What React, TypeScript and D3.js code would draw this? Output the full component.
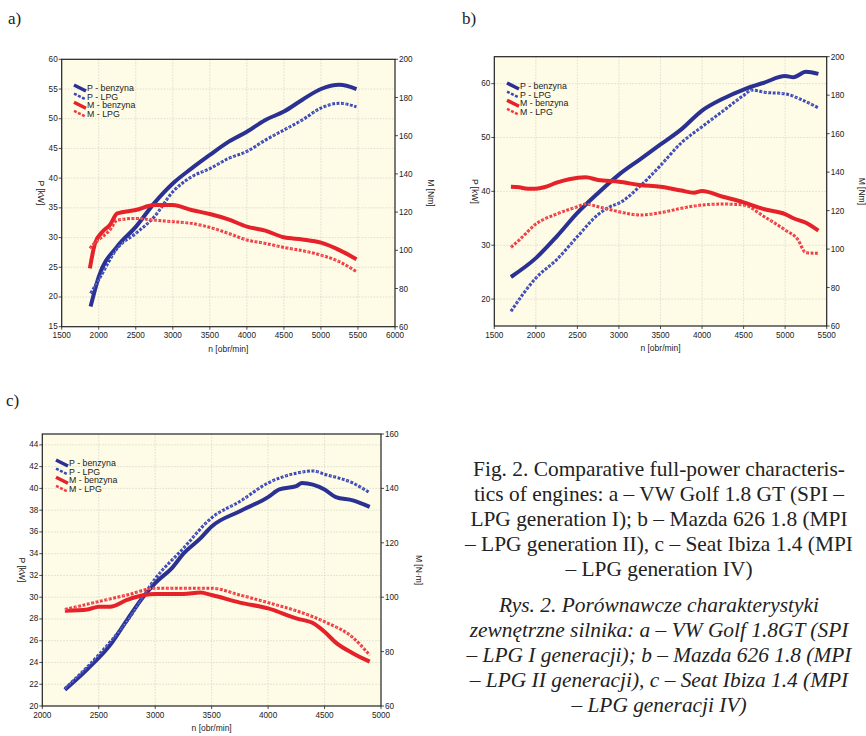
import * as d3 from 'd3';

// ---- panel a: VW Golf 1.8 GT ----
const rpmA = [1890, 2000, 2250, 2500, 2750, 3000, 3250, 3500, 3750, 4000, 4250, 4500, 4750, 5000, 5250, 5480];
const aPBenz = [18.4, 23.4, 28.5, 31.8, 35.8, 39.1, 41.6, 43.9, 46.1, 47.8, 49.8, 51.2, 53.2, 55.0, 55.7, 55.0];
const aPLpg = [20.6, 22.9, 28.2, 30.7, 33.5, 37.7, 40.2, 41.6, 43.3, 44.5, 46.4, 48.1, 49.8, 51.8, 52.6, 52.0];
const rpmAM = [1880, 1950, 2050, 2150, 2250, 2500, 2750, 3000, 3250, 3500, 3750, 4000, 4250, 4500, 4750, 5000, 5250, 5480];
const aMBenz = [90.5, 103.6, 109.7, 113.2, 119.3, 121.1, 123.7, 123.7, 121.1, 119.0, 116.2, 112.4, 110.3, 106.8, 105.7, 104.0, 100.1, 95.3];
const aMLpg = [101.0, 104.0, 107.1, 110.6, 115.8, 116.7, 115.8, 115.0, 114.1, 112.0, 108.9, 105.4, 103.6, 101.5, 99.8, 97.5, 94.0, 88.8];

// ---- panel b: Mazda 626 1.8 ----
const rpmB = [1700, 2000, 2250, 2500, 2750, 3000, 3250, 3500, 3750, 4000, 4250, 4500, 4750, 5000, 5100, 5250, 5400];
const bPBenz = [24.1, 27.6, 31.6, 36.0, 39.7, 43.1, 45.9, 48.7, 51.5, 55.0, 57.2, 58.9, 60.2, 61.4, 61.2, 62.2, 61.8];
const rpmBPL = [1700, 2000, 2250, 2500, 2750, 2900, 3000, 3250, 3500, 3750, 4000, 4250, 4500, 4600, 4750, 5000, 5200, 5400];
const bPLpg = [17.7, 23.9, 27.3, 31.6, 35.7, 37.2, 37.8, 40.9, 44.8, 49.0, 52.0, 54.9, 57.8, 58.8, 58.4, 58.1, 57.0, 55.5];
const rpmBMB = [1700, 1800, 1900, 2000, 2100, 2250, 2400, 2600, 2750, 3000, 3250, 3500, 3750, 3900, 4000, 4250, 4500, 4750, 5000, 5100, 5250, 5400];
const bMBenz = [132.4, 132.1, 131.4, 131.4, 132.1, 134.5, 136.3, 137.3, 135.9, 135.0, 133.3, 132.4, 130.4, 129.3, 130.2, 127.2, 124.3, 120.7, 118.2, 116.0, 113.7, 109.6];
const rpmBML = [1700, 1800, 2000, 2250, 2500, 2600, 2750, 3000, 3250, 3500, 3750, 4000, 4250, 4500, 4750, 5000, 5150, 5250, 5400];
const bMLpg = [100.9, 104.7, 113.0, 118.2, 122.0, 123.4, 122.0, 119.4, 117.7, 118.9, 121.2, 122.9, 123.4, 122.9, 116.8, 109.9, 105.1, 98.1, 97.8];

// ---- panel c: Seat Ibiza 1.4 ----
const rpmCPB = [2200, 2400, 2600, 2750, 2900, 3000, 3150, 3250, 3400, 3500, 3750, 4000, 4100, 4250, 4300, 4500, 4600, 4750, 4900];
const cPBenz = [21.5, 23.4, 25.6, 27.9, 30.1, 31.3, 32.7, 34.0, 35.4, 36.5, 37.9, 39.2, 39.9, 40.2, 40.5, 39.9, 39.2, 38.9, 38.3];
const rpmCPL = [2200, 2500, 2750, 3000, 3250, 3500, 3750, 4000, 4250, 4400, 4500, 4750, 4900];
const cPLpg = [21.6, 24.7, 27.8, 31.7, 34.5, 37.3, 38.8, 40.5, 41.4, 41.6, 41.3, 40.5, 39.6];
const rpmCMB = [2200, 2400, 2500, 2600, 2750, 2900, 3000, 3250, 3400, 3500, 3750, 4000, 4250, 4400, 4500, 4600, 4750, 4900];
const cMBenz = [95.0, 95.5, 96.5, 96.5, 99.0, 100.8, 101.2, 101.2, 101.7, 100.8, 98.0, 95.9, 92.2, 90.4, 87.3, 83.3, 79.4, 76.3];
const rpmCML = [2200, 2500, 2750, 3000, 3250, 3500, 3750, 4000, 4250, 4500, 4750, 4900];
const cMLpg = [95.5, 98.4, 100.8, 103.3, 103.3, 103.3, 100.8, 98.0, 95.0, 91.0, 85.2, 78.7];

const legendLabels = ['P - benzyna', 'P - LPG', 'M - benzyna', 'M - LPG'];

const captionEn = [
  'Fig. 2. Comparative full-power characteris-',
  'tics of engines: a – VW Golf 1.8 GT (SPI –',
  'LPG generation I); b – Mazda 626 1.8 (MPI',
  '– LPG generation II), c – Seat Ibiza 1.4 (MPI',
  '– LPG generation IV)',
];
const captionPl = [
  'Rys. 2. Porównawcze charakterystyki',
  'zewnętrzne silnika: a – VW Golf 1.8GT (SPI',
  '– LPG I generacji); b – Mazda 626 1.8 (MPI',
  '– LPG II generacji), c – Seat Ibiza 1.4 (MPI',
  '– LPG generacji IV)',
];

const BLUE = '#2b3192';
const BLUE_L = '#3a47b5';
const RED = '#e5222a';
const RED_L = '#ef3a40';
const SANS = 'Liberation Sans, Arial, sans-serif';
const SERIF = 'Liberation Serif, Times New Roman, serif';

type Series = { x: number[]; y: number[]; axis: 'P' | 'M'; kind: number };

type PanelProps = {
  box: { x0: number; x1: number; y0: number; y1: number };
  xDomain: [number, number];
  xStep: number;
  pDomain: [number, number];
  pTicks: number[];
  mDomain: [number, number];
  mTicks: number[];
  series: Series[];
  mLabel: string;
  legend: [number, number];
  leftLabelX: number;
  rightLabelX: number;
};

const Panel = ({ box, xDomain, xStep, pDomain, pTicks, mDomain, mTicks, series, mLabel, legend, leftLabelX, rightLabelX }: PanelProps) => {
  const x = d3.scaleLinear().domain(xDomain).range([box.x0, box.x1]);
  const yP = d3.scaleLinear().domain(pDomain).range([box.y1, box.y0]);
  const yM = d3.scaleLinear().domain(mDomain).range([box.y1, box.y0]);
  const xTicks = d3.range(xDomain[0], xDomain[1] + 1, xStep);
  const midY = (box.y0 + box.y1) / 2;

  // 0: P benzyna, 1: P LPG, 2: M benzyna, 3: M LPG
  const styles = [
    { stroke: BLUE, width: 4, dash: undefined, over: false },
    { stroke: BLUE_L, width: 3, dash: '3 1.5', over: true },
    { stroke: RED, width: 4, dash: undefined, over: false },
    { stroke: RED_L, width: 3, dash: '3 1.5', over: true },
  ];

  return (
    <g>
      <rect x={box.x0} y={box.y0} width={box.x1 - box.x0} height={box.y1 - box.y0} fill="#fefce6" />
      {xTicks.slice(1, -1).map(t => (
        <line key={'gx' + t} x1={x(t)} x2={x(t)} y1={box.y0} y2={box.y1} stroke="#c9c9c0" strokeWidth={0.6} strokeDasharray="1.5 1.5" />
      ))}
      {pTicks.filter(t => t > pDomain[0] && t < pDomain[1]).map(t => (
        <line key={'gy' + t} x1={box.x0} x2={box.x1} y1={yP(t)} y2={yP(t)} stroke="#c9c9c0" strokeWidth={0.6} strokeDasharray="1.5 1.5" />
      ))}
      {series.map((s, i) => {
        const st = styles[s.kind];
        const ys = s.axis === 'P' ? yP : yM;
        const pts = s.x.map((v, j) => [v, s.y[j]] as [number, number]);
        const line = d3.line<[number, number]>().x(d => x(d[0])).y(d => ys(d[1])).curve(d3.curveMonotoneX);
        const d = line(pts) || '';
        return (
          <g key={i}>
            <path d={d} fill="none" stroke={st.stroke} strokeWidth={st.width} strokeDasharray={st.dash} />
            {st.over && <path d={d} fill="none" stroke="#ffffff" strokeWidth={0.7} strokeDasharray="1 2.5" opacity={0.8} />}
          </g>
        );
      })}
      <rect x={box.x0} y={box.y0} width={box.x1 - box.x0} height={box.y1 - box.y0} fill="none" stroke="#222" strokeWidth={1.2} />
      {xTicks.map(t => (
        <g key={'tx' + t}>
          <line x1={x(t)} x2={x(t)} y1={box.y1} y2={box.y1 + 3} stroke="#222" strokeWidth={0.8} />
          <text x={x(t)} y={box.y1 + 11.5} textAnchor="middle" fontSize={8.2} fontFamily={SANS} fill="#222">{t}</text>
        </g>
      ))}
      {pTicks.map(t => (
        <g key={'tp' + t}>
          <line x1={box.x0 - 3} x2={box.x0} y1={yP(t)} y2={yP(t)} stroke="#222" strokeWidth={0.8} />
          <text x={box.x0 - 4} y={yP(t) + 2.5} textAnchor="end" fontSize={8.2} fontFamily={SANS} fill="#222">{t}</text>
        </g>
      ))}
      {mTicks.map(t => (
        <g key={'tm' + t}>
          <line x1={box.x1} x2={box.x1 + 3} y1={yM(t)} y2={yM(t)} stroke="#222" strokeWidth={0.8} />
          <text x={box.x1 + 4} y={yM(t) + 3} textAnchor="start" fontSize={8.2} fontFamily={SANS} fill="#222">{t}</text>
        </g>
      ))}
      <text x={(box.x0 + box.x1) / 2} y={box.y1 + 25} textAnchor="middle" fontSize={8.5} fontFamily={SANS} fill="#222">n [obr/min]</text>
      <text transform={`translate(${leftLabelX},${midY}) rotate(90)`} textAnchor="middle" fontSize={8.5} fontFamily={SANS} fill="#222">P [kW]</text>
      <text transform={`translate(${rightLabelX},${midY}) rotate(90)`} textAnchor="middle" fontSize={8.5} fontFamily={SANS} fill="#222">{mLabel}</text>
      {legendLabels.map((lab, i) => {
        const st = styles[i];
        const ly = legend[1] + i * 8.6;
        return (
          <g key={lab}>
            <line x1={legend[0]} y1={ly - 3} x2={legend[0] + 12} y2={ly + 3} stroke={st.stroke} strokeWidth={st.width - 0.5} strokeDasharray={st.dash} />
            <text x={legend[0] + 13} y={ly + 3} fontSize={8.8} fontFamily={SANS} fill="#222">{lab}</text>
          </g>
        );
      })}
    </g>
  );
};

const App = () => {
  const seriesA: Series[] = [
    { x: rpmA, y: aPBenz, axis: 'P', kind: 0 },
    { x: rpmA, y: aPLpg, axis: 'P', kind: 1 },
    { x: rpmAM, y: aMBenz, axis: 'M', kind: 2 },
    { x: rpmAM, y: aMLpg, axis: 'M', kind: 3 },
  ];
  const seriesB: Series[] = [
    { x: rpmBPL, y: bPLpg, axis: 'P', kind: 1 },
    { x: rpmB, y: bPBenz, axis: 'P', kind: 0 },
    { x: rpmBML, y: bMLpg, axis: 'M', kind: 3 },
    { x: rpmBMB, y: bMBenz, axis: 'M', kind: 2 },
  ];
  const seriesC: Series[] = [
    { x: rpmCPB, y: cPBenz, axis: 'P', kind: 0 },
    { x: rpmCPL, y: cPLpg, axis: 'P', kind: 1 },
    { x: rpmCMB, y: cMBenz, axis: 'M', kind: 2 },
    { x: rpmCML, y: cMLpg, axis: 'M', kind: 3 },
  ];

  return (
    <div style={{ position: 'absolute', left: 0, top: 0 }}>
      <svg width={866} height={736} style={{ display: 'block', background: '#fff' }}>
        <text x={8} y={24} fontSize={17} fontFamily={SERIF} fill="#222">a)</text>
        <text x={462} y={24} fontSize={17} fontFamily={SERIF} fill="#222">b)</text>
        <text x={6} y={406} fontSize={17} fontFamily={SERIF} fill="#222">c)</text>

        <Panel
          box={{ x0: 61.7, x1: 395, y0: 59.3, y1: 326.7 }}
          xDomain={[1500, 6000]} xStep={500}
          pDomain={[15, 60]} pTicks={d3.range(15, 61, 5)}
          mDomain={[60, 200]} mTicks={d3.range(60, 201, 20)}
          series={seriesA} mLabel="M [Nm]" legend={[74, 88]}
          leftLabelX={38} rightLabelX={428}
        />
        <Panel
          box={{ x0: 494.3, x1: 826.7, y0: 56.7, y1: 326 }}
          xDomain={[1500, 5500]} xStep={500}
          pDomain={[15, 65]} pTicks={d3.range(20, 61, 10)}
          mDomain={[60, 200]} mTicks={d3.range(60, 201, 20)}
          series={seriesB} mLabel="M [Nm]" legend={[507, 86]}
          leftLabelX={472} rightLabelX={859}
        />
        <Panel
          box={{ x0: 42.3, x1: 381, y0: 434, y1: 706 }}
          xDomain={[2000, 5000]} xStep={500}
          pDomain={[20, 45]} pTicks={d3.range(20, 45, 2)}
          mDomain={[60, 160]} mTicks={d3.range(60, 161, 20)}
          series={seriesC} mLabel="M [N·m]" legend={[56, 463]}
          leftLabelX={19} rightLabelX={416}
        />

        {captionEn.map((t, i) => (
          <text key={'en' + i} x={659} y={476 + i * 25} textAnchor="middle" fontSize={21.4} fontFamily={SERIF} fill="#222">{t}</text>
        ))}
        {captionPl.map((t, i) => (
          <text key={'pl' + i} x={659} y={612 + i * 25} textAnchor="middle" fontSize={21.4} fontStyle="italic" fontFamily={SERIF} fill="#222">{t}</text>
        ))}
      </svg>
    </div>
  );
};

export default App;
